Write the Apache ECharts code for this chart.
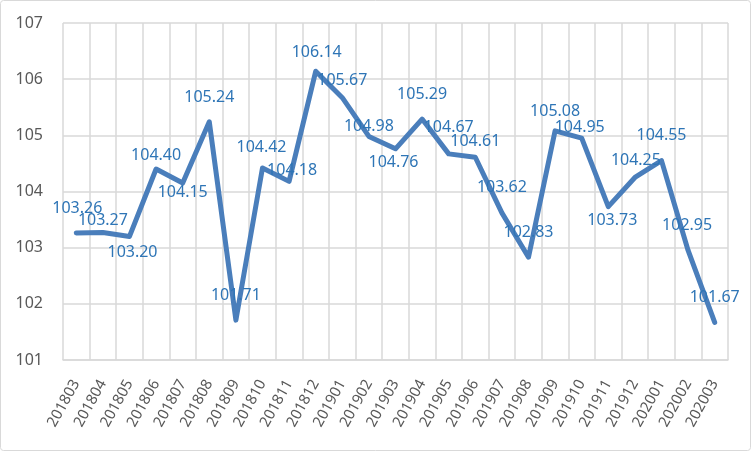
<!DOCTYPE html>
<html>
<head>
<meta charset="utf-8">
<script src="https://cdn.jsdelivr.net/npm/echarts@6/dist/echarts.min.js"></script>
<style>html,body{margin:0;padding:0;background:#fff}#c{width:751px;height:451px}</style>
</head>
<body>
<div id="c"></div>
<script>
const categories = ['201803','201804','201805','201806','201807','201808','201809','201810','201811','201812','201901','201902','201903','201904','201905','201906','201907','201908','201909','201910','201911','201912','202001','202002','202003'];
const values = [103.26,103.27,103.20,104.40,104.15,105.24,101.71,104.42,104.18,106.14,105.67,104.98,104.76,105.29,104.67,104.61,103.62,102.83,105.08,104.95,103.73,104.25,104.55,102.95,101.67];
const yMin = 101, yMax = 107, yStep = 1;
// label offsets from the point (style only)
const labelOffsets = [[1,-25],[0,-12],[3,16],[0,-14],[0,9],[0,-24],[0,-25],[-1,-20],[3,-11],[1,-19],[0,-17],[0,-10],[-2,14],[0,-25],[0,-26],[0,-16],[0,-25],[0,-25],[0,-19],[-2,-11],[4,14],[1,-17],[0,-25],[-1,-25],[0,-25]];

const chart = echarts.init(document.getElementById('c'), null, {renderer:'canvas'});
const font = 'Noto Sans, sans-serif';
chart.setOption({
  animation:false,
  backgroundColor:'#fff',
  graphic:[{type:'rect',shape:{x:0.5,y:0.5,width:750,height:450,r:3},style:{fill:'none',stroke:'#D9D9D9',lineWidth:1}}],
  grid:{left:63,right:23,top:23,bottom:91,containLabel:false},
  xAxis:{
    type:'category',data:categories,boundaryGap:true,
    axisLine:{show:true,lineStyle:{color:'#D9D9D9',width:1.5}},
    axisTick:{show:false},
    splitLine:{show:true,lineStyle:{color:'#D9D9D9',width:1.5}},
    axisLabel:{rotate:61,color:'#595959',fontSize:15,fontFamily:font,margin:21,interval:0}
  },
  yAxis:{
    type:'value',min:yMin,max:yMax,interval:yStep,
    axisLine:{show:false},axisTick:{show:false},
    splitLine:{lineStyle:{color:'#D9D9D9',width:1.5}},
    axisLabel:{color:'#595959',fontSize:16,fontFamily:font,margin:20}
  },
  series:[{
    type:'line',
    data:values.map((v,i)=>({value:v,label:{offset:labelOffsets[i]}})),
    symbol:'circle',symbolSize:1,
    itemStyle:{color:'#4A7EBB'},
    lineStyle:{color:'#4A7EBB',width:5,join:'round',cap:'round'},
    label:{show:true,position:'inside',align:'center',verticalAlign:'middle',color:'#2E75B6',fontSize:16,fontFamily:font,formatter:p=>p.value.toFixed(2)}
  }]
});
</script>
</body>
</html>
